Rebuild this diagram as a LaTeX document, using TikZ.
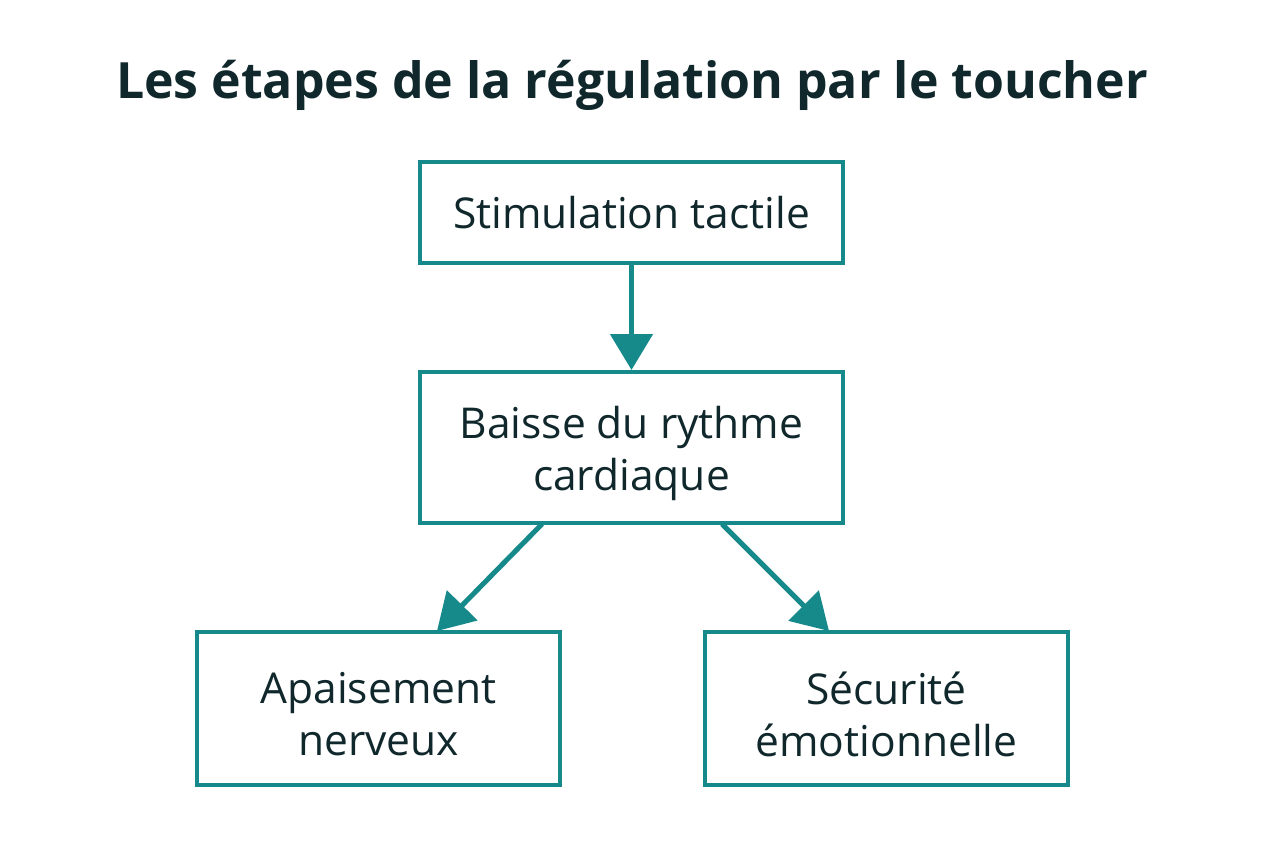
\documentclass[tikz,border=0pt]{standalone}
\usepackage{fontspec}
\setmainfont{Open Sans}
\usetikzlibrary{arrows.meta}
\definecolor{teal1}{HTML}{16898A}
\definecolor{ink}{HTML}{10282C}
\tikzset{
  boxtext/.style={text=ink, align=center, inner sep=0pt, font=\fontsize{42.5}{52}\selectfont},
  box/.style={draw=teal1, line width=4pt, fill=white, boxtext},
  lowtext/.style={label={[boxtext, yshift=-6pt]center:#1}},
  conn/.style={draw=teal1, line width=5pt, -{Triangle[length=36pt,width=42pt]}}
}
\begin{document}
\begin{tikzpicture}[x=1pt,y=-1pt]
\useasboundingbox[fill=white] (0,0) rectangle (1264,848);
\node[text=ink, font=\bfseries\fontsize{50}{60}\selectfont] (title) at (632,85) {Les étapes de la régulation par le toucher};
\node[box, minimum width=423pt, minimum height=101pt] (a) at (631.5,212.5) {Stimulation tactile};
\node[box, minimum width=423pt, minimum height=151pt, lowtext={Baisse du rythme\\cardiaque}] (b) at (631.5,447.5) {};
\node[box, minimum width=363pt, minimum height=153pt, lowtext={Apaisement\\nerveux}] (c) at (378.5,708.5) {};
\node[box, minimum width=363pt, minimum height=153pt, lowtext={Sécurité\\émotionnelle}] (d) at (886.5,708.5) {};
\coordinate (b1) at (542,524);
\coordinate (b2) at (722,524);
\coordinate (c1) at (437,631);
\coordinate (d1) at (829,631);
\draw[conn] (a.south) -- (b.north);
\draw[conn] (b1) -- (c1);
\draw[conn] (b2) -- (d1);
\end{tikzpicture}
\end{document}
